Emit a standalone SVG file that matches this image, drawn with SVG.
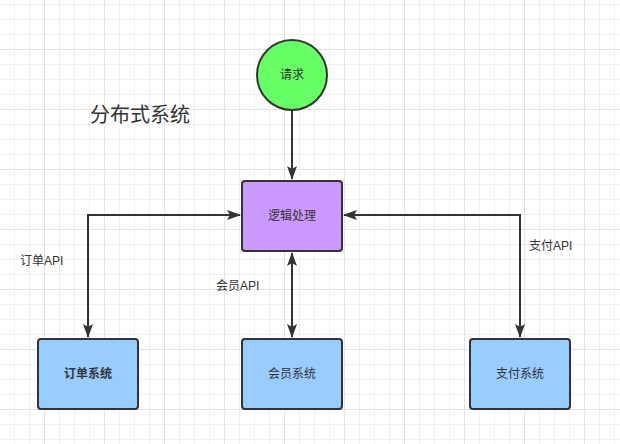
<svg xmlns="http://www.w3.org/2000/svg" width="620" height="444" viewBox="0 0 620 444">
<defs>
<pattern id="g" x="14" y="4" width="60" height="60" patternUnits="userSpaceOnUse">
<path d="M0 0.5H60M0 15.5H60M0 30.5H60M0 45.5H60M0.5 0V60M15.5 0V60M30.5 0V60M45.5 0V60" stroke="#f0f0f0" stroke-width="1" fill="none"/>
<path d="M30 0.5H60M0.5 30V60" stroke="none" fill="none"/>
</pattern>
<pattern id="gm" x="44" y="49" width="60" height="60" patternUnits="userSpaceOnUse">
<path d="M0 0.5H60M0.5 0V60" stroke="#e3e3e3" stroke-width="1" fill="none"/>
</pattern>
<marker id="a" viewBox="0 0 14 10" refX="13" refY="5" markerWidth="7" markerHeight="5" orient="auto-start-reverse" markerUnits="strokeWidth">
<path d="M0 0L14 5L0 10L3 5Z" fill="#333"/>
</marker>
<style>
.n{stroke:#333;stroke-width:2}
.t{font-family:"Liberation Sans","Noto Sans CJK SC",sans-serif;font-size:12px;fill:#333;text-anchor:middle;dominant-baseline:central}
.l{font-family:"Liberation Sans","Noto Sans CJK SC",sans-serif;font-size:12px;fill:#333}
.c{fill:none;stroke:#333;stroke-width:2}
</style>
</defs>
<rect width="620" height="444" fill="#fff"/>
<rect width="620" height="444" fill="url(#g)"/>
<rect width="620" height="444" fill="url(#gm)"/>
<text x="90" y="122" class="l" style="font-size:20px">分布式系统</text>
<g id="connectors">
<path class="c" d="M292 110V179" marker-end="url(#a)"/>
<path class="c" d="M88 337V215H240" marker-start="url(#a)" marker-end="url(#a)"/>
<path class="c" d="M292 253V337" marker-start="url(#a)" marker-end="url(#a)"/>
<path class="c" d="M344 215H520V337" marker-start="url(#a)" marker-end="url(#a)"/>
</g>
<text x="20" y="265" class="l">订单API</text>
<text x="216" y="290" class="l">会员API</text>
<text x="529" y="250" class="l">支付API</text>
<g id="req">
<circle cx="292" cy="75" r="35" fill="#66ff66" class="n"/>
<text x="292" y="75" class="t">请求</text>
</g>
<g id="logic">
<rect x="242" y="181" width="100" height="70" rx="3" fill="#cc99ff" class="n"/>
<text x="292" y="216" class="t">逻辑处理</text>
</g>
<g id="order">
<rect x="38" y="339" width="100" height="70" rx="3" fill="#99ccff" class="n"/>
<text x="88" y="374" class="t" font-weight="bold">订单系统</text>
</g>
<g id="member">
<rect x="242" y="339" width="100" height="70" rx="3" fill="#99ccff" class="n"/>
<text x="292" y="374" class="t">会员系统</text>
</g>
<g id="pay">
<rect x="470" y="339" width="100" height="70" rx="3" fill="#99ccff" class="n"/>
<text x="520" y="374" class="t">支付系统</text>
</g>
</svg>
